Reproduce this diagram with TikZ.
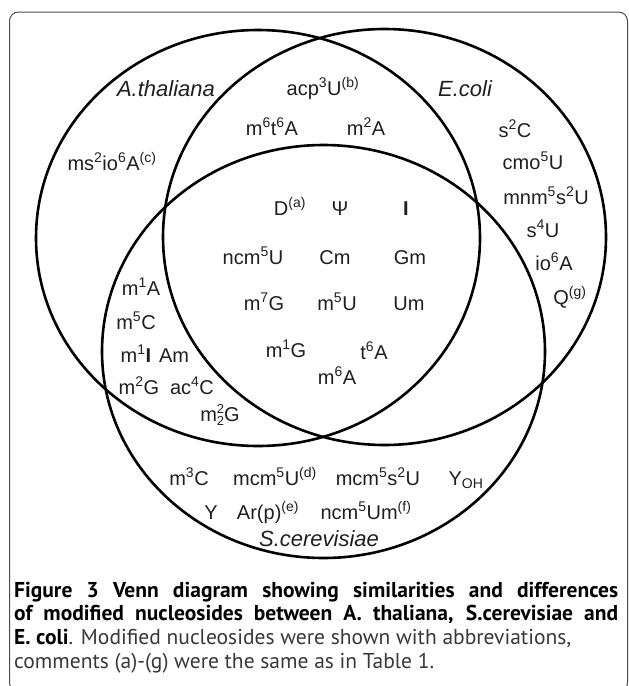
\documentclass[tikz,border=0pt]{standalone}
\usepackage{fontspec}
\setmainfont{Liberation Sans}
\newfontfamily\capfont{PT Sans}
\newcommand{\spr}[1]{\textsuperscript{#1}}
\tikzset{
  ring/.style={line width=2.6pt},
  item/.style={anchor=base, inner sep=0pt, text=black!88, font=\fontsize{20}{24}\selectfont},
  species/.style={anchor=base, inner sep=0pt, text=black!88, font=\fontsize{22}{26}\selectfont\itshape},
  capline/.style={anchor=base west, inner sep=0pt, text=black!78, font=\fontsize{21.5}{24}\selectfont\capfont}
}

\begin{document}
\begin{tikzpicture}[x=1pt, y=-1pt]
	%%%%% FRAME %%%%%
	\useasboundingbox (0,0) rectangle (629,686);
	\clip (0,0) rectangle (629,686);
	\draw[black!70, line width=1pt, rounded corners=9pt] (9.5,12) rectangle (627.5,692);
	
	%%%%% SETS %%%%%
	\draw[ring] (258,238) ellipse [x radius=222pt, y radius=208pt];
	\draw[ring] (384.5,237) ellipse [x radius=221.5pt, y radius=208pt];
	\draw[ring] (323.5,351.5) ellipse [x radius=221.5pt, y radius=206.5pt];
	
	\node[species] (atha) at (166,96) {A.thaliana};
	\node[species] (ecol) at (465,96) {E.coli};
	\node[species] (scer) at (319,546) {S.cerevisiae};
	
	% A.thaliana and E.coli only
	\node[item] (acp) at (323,95) {acp\spr{3}U\spr{(b)}};
	\node[item] (mtta) at (272,135) {m\spr{6}t\spr{6}A};
	\node[item] (mta) at (366,135) {m\spr{2}A};
	
	% A.thaliana only
	\node[item] (msio) at (112,170) {ms\spr{2}io\spr{6}A\spr{(c)}};
	
	% E.coli only
	\node[item] (stc) at (515,137) {s\spr{2}C};
	\node[item] (cmo) at (533,169) {cmo\spr{5}U};
	\node[item] (mnm) at (546,204) {mnm\spr{5}s\spr{2}U};
	\node[item] (sfu) at (543,237) {s\spr{4}U};
	\node[item] (ioa) at (554,270) {io\spr{6}A};
	\node[item] (qg) at (570,304) {Q\spr{(g)}};
	
	% all three
	\node[item] (dih) at (290,215) {D\spr{(a)}};
	\node[item] (psi) at (340,215) {Ψ};
	\node[item] (ino) at (406,215) {\textbf{I}};
	\node[item] (ncm) at (253,264) {ncm\spr{5}U};
	\node[item] (cm) at (335,264) {Cm};
	\node[item] (gm) at (410,264) {Gm};
	\node[item] (msg) at (264,310) {m\spr{7}G};
	\node[item] (mfu) at (337,310) {m\spr{5}U};
	\node[item] (um) at (409,310) {Um};
	\node[item] (mog) at (286,357) {m\spr{1}G};
	\node[item] (tsa) at (374,359) {t\spr{6}A};
	\node[item] (msa) at (337,384) {m\spr{6}A};
	
	% A.thaliana and S.cerevisiae only
	\node[item] (moa) at (141,295) {m\spr{1}A};
	\node[item] (mfc) at (136,329) {m\spr{5}C};
	\node[item] (moi) at (136,362) {m\spr{1}\textbf{I}};
	\node[item] (am) at (174,362) {Am};
	\node[item] (mtg) at (139,394) {m\spr{2}G};
	\node[item] (acc) at (192,394) {ac\spr{4}C};
	\node[item] (mttg) at (220,421) {m\rlap{\raisebox{0.75ex}{\fontsize{13}{13}\selectfont 2}}\raisebox{-0.45ex}{\fontsize{13}{13}\selectfont 2}G};
	
	% S.cerevisiae only
	\node[item] (mtc) at (189,485) {m\spr{3}C};
	\node[item] (mcm) at (275,485) {mcm\spr{5}U\spr{(d)}};
	\node[item] (mcms) at (378,485) {mcm\spr{5}s\spr{2}U};
	\node[item] (yoh) at (466,485) {Y\textsubscript{OH}};
	\node[item] (ywy) at (211,519) {Y};
	\node[item] (arp) at (268,519) {Ar(p)\spr{(e)}};
	\node[item] (ncmu) at (366,519) {ncm\spr{5}Um\spr{(f)}};
	
	%%%%% CAPTION %%%%%
	\node[capline] (capa) at (14,597) {\makebox[604pt][s]{\textcolor{black}{\bfseries Figure 3 Venn diagram showing similarities and differences}}};
	\node[capline] (capb) at (14,620) {\makebox[604pt][s]{\textcolor{black}{\bfseries of modified nucleosides between A. thaliana, S.cerevisiae and}}};
	\node[capline] (capc) at (14,644) {\textcolor{black}{\bfseries E. coli}. Modified nucleosides were shown with abbreviations,};
	\node[capline] (capd) at (14,668) {comments (a)-(g) were the same as in Table 1.};
\end{tikzpicture}
\end{document}
